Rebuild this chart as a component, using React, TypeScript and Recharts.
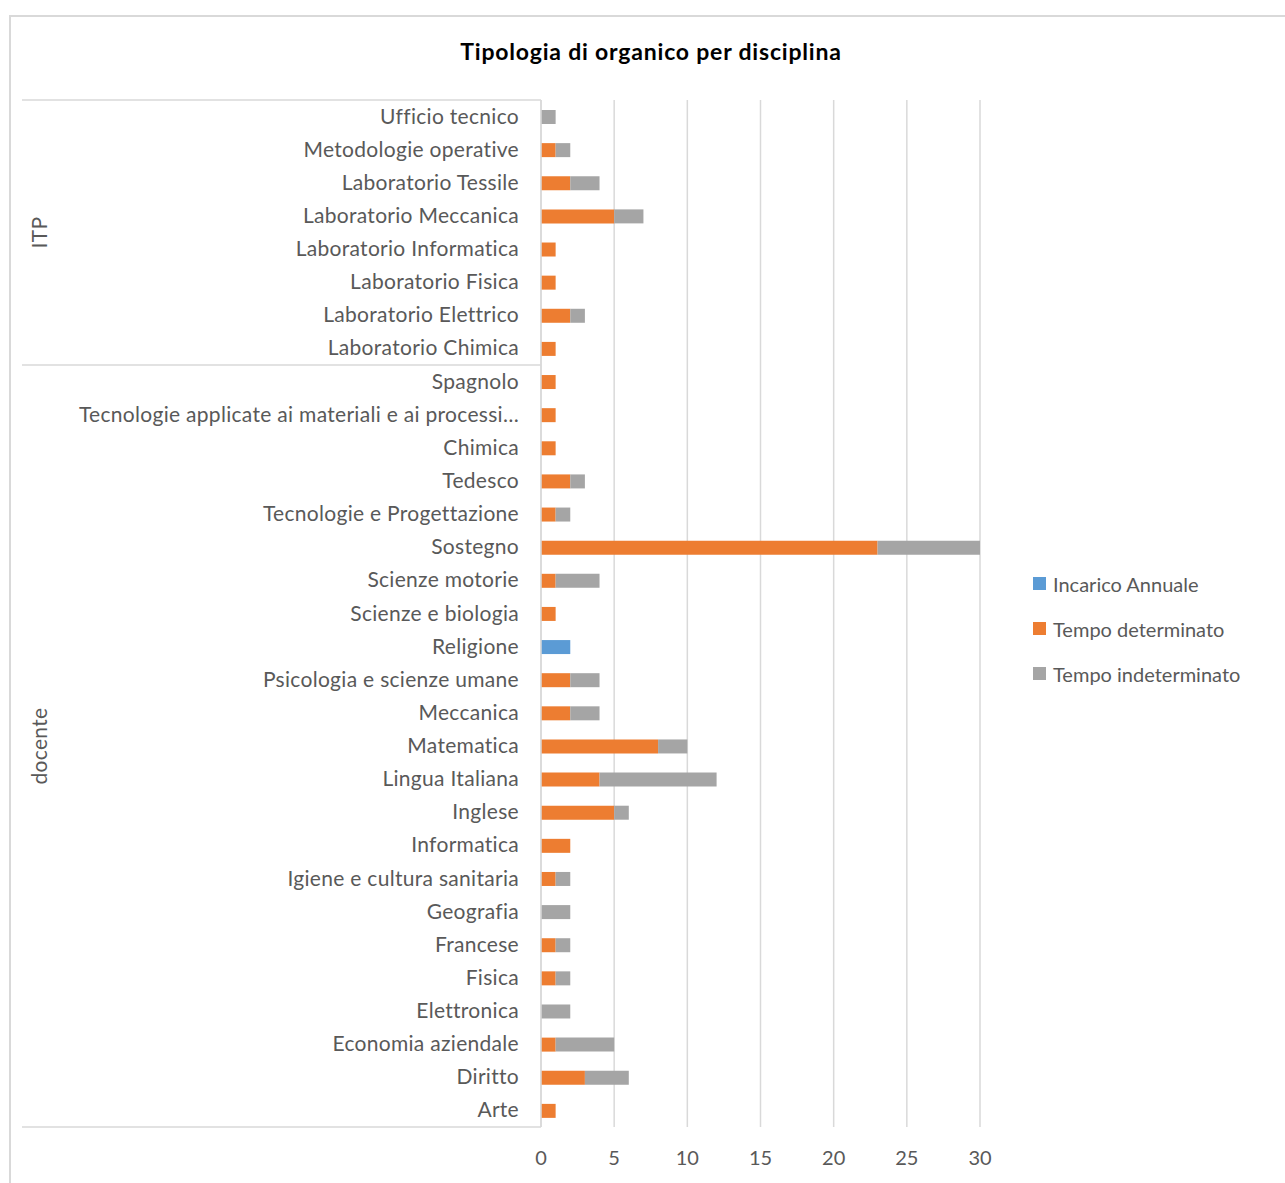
import React from "react";
import { BarChart, Bar, XAxis, YAxis, CartesianGrid, Legend } from "recharts";

// categories top to bottom, as drawn
const categories = [
  "Ufficio tecnico",
  "Metodologie operative",
  "Laboratorio Tessile",
  "Laboratorio Meccanica",
  "Laboratorio Informatica",
  "Laboratorio Fisica",
  "Laboratorio Elettrico",
  "Laboratorio Chimica",
  "Spagnolo",
  "Tecnologie applicate ai materiali e ai processi…",
  "Chimica",
  "Tedesco",
  "Tecnologie e Progettazione",
  "Sostegno",
  "Scienze motorie",
  "Scienze e biologia",
  "Religione",
  "Psicologia e scienze umane",
  "Meccanica",
  "Matematica",
  "Lingua Italiana",
  "Inglese",
  "Informatica",
  "Igiene e cultura sanitaria",
  "Geografia",
  "Francese",
  "Fisica",
  "Elettronica",
  "Economia aziendale",
  "Diritto",
  "Arte",
];

const groupNames = ["ITP", "docente"];
const groupSizes = [8, 23];

const incaricoAnnuale = [
  0, 0, 0, 0, 0, 0, 0, 0,
  0, 0, 0, 0, 0, 0, 0, 0, 2, 0, 0, 0, 0, 0, 0, 0, 0, 0, 0, 0, 0, 0, 0,
];
const tempoDeterminato = [
  0, 1, 2, 5, 1, 1, 2, 1,
  1, 1, 1, 2, 1, 23, 1, 1, 0, 2, 2, 8, 4, 5, 2, 1, 0, 1, 1, 0, 1, 3, 1,
];
const tempoIndeterminato = [
  1, 1, 2, 2, 0, 0, 1, 0,
  0, 0, 0, 1, 1, 7, 3, 0, 0, 2, 2, 2, 8, 1, 0, 1, 2, 1, 1, 2, 4, 3, 0,
];

const xTicks = [0, 5, 10, 15, 20, 25, 30];

const seriesColors = {
  annual: "#5B9BD5",
  det: "#ED7D31",
  indet: "#A5A5A5",
};

const FONT = "Lato, 'Noto Sans', sans-serif";
const TEXT = "#595959";
const GRID = "#D9D9D9";

const groupOf: string[] = [];
const groupStart: number[] = [];
groupSizes.forEach((size, g) => {
  groupStart.push(groupOf.length);
  for (let k = 0; k < size; k++) groupOf.push(groupNames[g]);
});

const data = categories.map((name, i) => ({
  name,
  group: groupOf[i],
  annual: incaricoAnnuale[i],
  det: tempoDeterminato[i],
  indet: tempoIndeterminato[i],
}));

const CategoryTick = (props: any) => {
  const { x, y, payload } = props;
  const i: number = payload?.index ?? props.index;
  const half: number = payload?.offset || 1027 / categories.length / 2;
  const axisX = x + 23;
  const lineStart = 22;
  const parts: React.ReactNode[] = [];

  parts.push(
    <text
      key="t"
      x={x + 1}
      y={y}
      dy={7}
      textAnchor="end"
      fill={TEXT}
      fontSize={21}
      letterSpacing={0.3}
      fontFamily={FONT}
    >
      {payload.value}
    </text>
  );

  groupSizes.forEach((size, g) => {
    const start = groupStart[g];
    if (i === start) {
      parts.push(
        <line key={"s" + g} x1={lineStart} x2={axisX} y1={y - half} y2={y - half} stroke={GRID} strokeWidth={1.5} />
      );
    }
    if (i === start + size - 1 && g === groupSizes.length - 1) {
      parts.push(
        <line key={"e" + g} x1={lineStart} x2={axisX} y1={y + half} y2={y + half} stroke={GRID} strokeWidth={1.5} />
      );
    }
    const mid = start + (size - 1) / 2;
    if (i === Math.floor(mid)) {
      const cy = y + (mid - Math.floor(mid)) * 2 * half;
      parts.push(
        <text
          key={"g" + g}
          x={40}
          y={cy}
          transform={`rotate(-90 40 ${cy})`}
          textAnchor="middle"
          dy={7}
          fill={TEXT}
          fontSize={21}
          letterSpacing={0.3}
          fontFamily={FONT}
        >
          {groupNames[g]}
        </text>
      );
    }
  });

  return <g>{parts}</g>;
};

const legendItems = [
  { key: "annual", label: "Incarico Annuale" },
  { key: "det", label: "Tempo determinato" },
  { key: "indet", label: "Tempo indeterminato" },
];

const LegendContent = () => (
  <div style={{ fontFamily: FONT, fontSize: 20, color: TEXT }}>
    {legendItems.map((it) => (
      <div key={it.key} style={{ display: "flex", alignItems: "center", height: 45 }}>
        <span
          style={{
            display: "inline-block",
            width: 13,
            height: 13,
            background: (seriesColors as any)[it.key],
            marginRight: 7,
          }}
        />
        <span>{it.label}</span>
      </div>
    ))}
  </div>
);

export default function App() {
  return (
    <div
      style={{
        position: "absolute",
        left: 0,
        top: 0,
        width: 1285,
        height: 1183,
        overflow: "hidden",
        background: "#fff",
      }}
    >
      <div
        style={{
          position: "absolute",
          left: 9,
          top: 15,
          width: 1320,
          height: 1220,
          border: "2px solid #D9D9D9",
        }}
      />
      <div
        style={{
          position: "absolute",
          left: 0,
          top: 37,
          width: 1302,
          textAlign: "center",
          fontFamily: FONT,
          fontWeight: 700,
          fontSize: 23,
          letterSpacing: 0.8,
          color: "#000",
        }}
      >
        Tipologia di organico per disciplina
      </div>
      <div style={{ position: "absolute", left: 0, top: 0 }}>
        <BarChart
          width={1285}
          height={1183}
          data={data}
          layout="vertical"
          margin={{ top: 100, right: 305, bottom: 0, left: 0 }}
          barSize={14}
        >
          <CartesianGrid horizontal={false} stroke={GRID} strokeWidth={1.5} />
          <XAxis
            type="number"
            domain={[0, 30]}
            ticks={xTicks}
            axisLine={false}
            tickLine={false}
            height={56}
            tickMargin={18}
            tick={{ fill: TEXT, fontSize: 20, fontFamily: FONT }}
          />
          <YAxis
            type="category"
            dataKey="name"
            width={541}
            interval={0}
            axisLine={{ stroke: GRID, strokeWidth: 1.5 }}
            tickLine={false}
            tickSize={6}
            tickMargin={17}
            tick={<CategoryTick />}
          />
          <Legend
            layout="vertical"
            align="center"
            verticalAlign="middle"
            wrapperStyle={{ left: 1033, top: 561, width: 252 }}
            content={<LegendContent />}
          />
          <Bar dataKey="annual" stackId="a" fill={seriesColors.annual} isAnimationActive={false} name="Incarico Annuale" />
          <Bar dataKey="det" stackId="a" fill={seriesColors.det} isAnimationActive={false} name="Tempo determinato" />
          <Bar dataKey="indet" stackId="a" fill={seriesColors.indet} isAnimationActive={false} name="Tempo indeterminato" />
        </BarChart>
      </div>
    </div>
  );
}
